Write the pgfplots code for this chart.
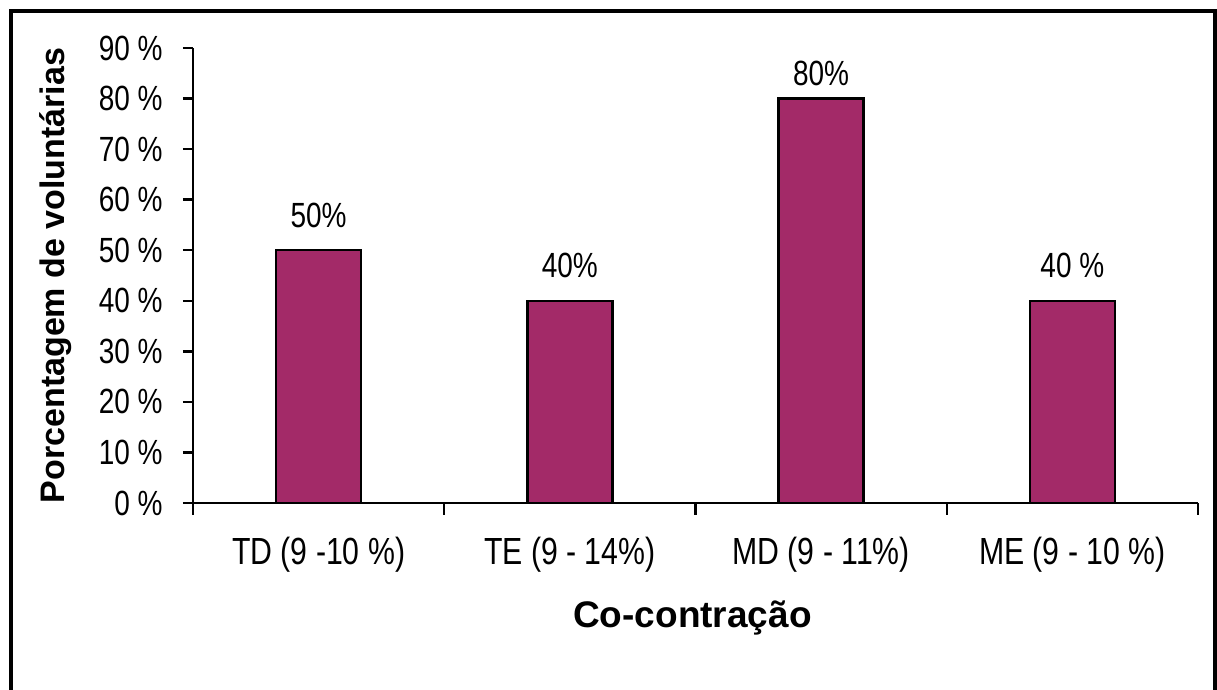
\documentclass[border=0pt]{standalone}
\usepackage{fontspec}
\setmainfont{Liberation Sans}
\newfontfamily\narrowfont{Liberation Sans}[FakeStretch=0.8]
\usepackage{pgfplots}
\pgfplotsset{compat=1.18}
\definecolor{barc}{RGB}{163,42,104}
\newcommand\lowlabel[1]{\raisebox{-5pt}[0pt][0pt]{#1}}
\begin{document}
\begin{tikzpicture}
\useasboundingbox (0,0) rectangle (608.5pt,345pt);
\draw[line width=2pt] (5.25pt,-5pt) -- (5.25pt,339.25pt) -- (607.25pt,339.25pt) -- (607.25pt,-5pt);
\begin{axis}[
  at={(96.5pt,93.5pt)}, anchor=south west,
  scale only axis, width=502.5pt, height=227.5pt,
  xmin=0, xmax=4, ymin=0, ymax=90,
  axis x line*=bottom, axis y line*=left,
  axis line style={line width=1.2pt, black},
  ytick={0,10,20,30,40,50,60,70,80,90},
  yticklabels={0 \%,10 \%,20 \%,30 \%,40 \%,50 \%,60 \%,70 \%,80 \%,90 \%},
  xtick={0.5,1.5,2.5,3.5},
  xticklabels={TD (9 -10 \%), TE (9 - 14\%), MD (9 - 11\%), ME (9 - 10 \%)},
  minor xtick={0,1,2,3,4},
  tick align=outside,
  ytick style={line width=1.2pt, black},
  major tick length=5pt,
  minor tick length=6pt,
  major x tick style={draw=none},
  minor x tick style={line width=1.2pt, black},
  yticklabel style={font=\narrowfont\fontsize{17.5}{20}\selectfont, anchor=east, inner sep=0pt, xshift=-10pt},
  xticklabel style={font=\narrowfont\fontsize{18.9}{21}\selectfont, anchor=base, inner sep=0pt, yshift=-26pt},
  xlabel={Co-contração},
  ylabel={Porcentagem de voluntárias},
  xlabel style={font=\bfseries\fontsize{18.5}{21}\selectfont, at={(axis description cs:0.497,-0.2747)}, anchor=base, inner sep=0pt},
  ylabel style={font=\bfseries\fontsize{17}{20}\selectfont, at={(axis description cs:-0.1363,0.5)}, anchor=center, inner sep=0pt},
  clip=false,
]
\addplot[ybar, bar width=42.5pt, fill=barc, draw=black, line width=1.2pt,
  nodes near coords, point meta=explicit symbolic,
  nodes near coords style={font=\narrowfont\fontsize{17.5}{20}\selectfont, anchor=base, inner sep=0pt, yshift=11.5pt, text=black}]
  coordinates {(0.5,50)[50\%] (1.5,40)[40\%] (2.5,80)[\lowlabel{80\%}] (3.5,40)[40 \%]};
\end{axis}
\end{tikzpicture}
\end{document}
